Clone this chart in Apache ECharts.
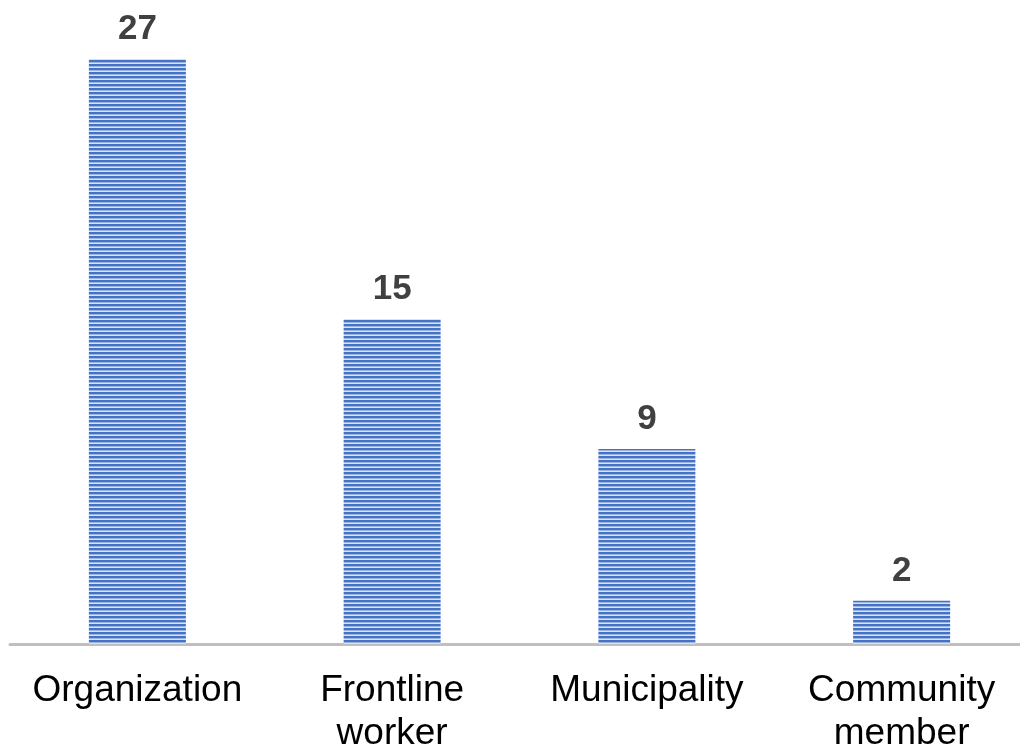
<!DOCTYPE html>
<html><head><meta charset="utf-8">
<script src="https://cdn.jsdelivr.net/npm/echarts@6/dist/echarts.min.js"></script>
<style>html,body{margin:0;padding:0;background:#fff}#c{width:1020px;height:749px}</style>
</head><body><div id="c"></div>
<script>
const categories = ['Organization', 'Frontline worker', 'Municipality', 'Community member'];
const values = [27, 15, 9, 2];

const pc = document.createElement('canvas');
pc.width = 8; pc.height = 4;
const g = pc.getContext('2d');
g.fillStyle = '#d9e2f3'; g.fillRect(0, 0, 8, 4);
g.fillStyle = '#4472C4'; g.fillRect(0, 0, 8, 2.4);

const chart = echarts.init(document.getElementById('c'), null, {renderer: 'canvas'});
chart.setOption({
  animation: false,
  grid: {left: 10, width: 1019, top: 59, height: 585, containLabel: false, outerBoundsMode: 'none'},
  xAxis: {
    type: 'category', data: categories,
    axisLine: {lineStyle: {color: '#bfbfbf', width: 3}},
    axisTick: {show: false},
    axisLabel: {
      interval: 0, margin: 25, fontSize: 37, lineHeight: 43,
      fontFamily: 'Liberation Sans, Arial, sans-serif', color: '#000',
      formatter: v => v.replace(' ', '\n')
    }
  },
  yAxis: {type: 'value', min: 0, max: 27, show: false, splitLine: {show: false}},
  series: [{
    type: 'bar', data: values, barWidth: 97,
    itemStyle: {color: {image: pc, repeat: 'repeat'}},
    label: {
      show: true, position: 'top', distance: 12,
      fontSize: 35, fontWeight: 'bold', color: '#404040',
      fontFamily: 'Liberation Sans, Arial, sans-serif'
    }
  }]
});
</script></body></html>
